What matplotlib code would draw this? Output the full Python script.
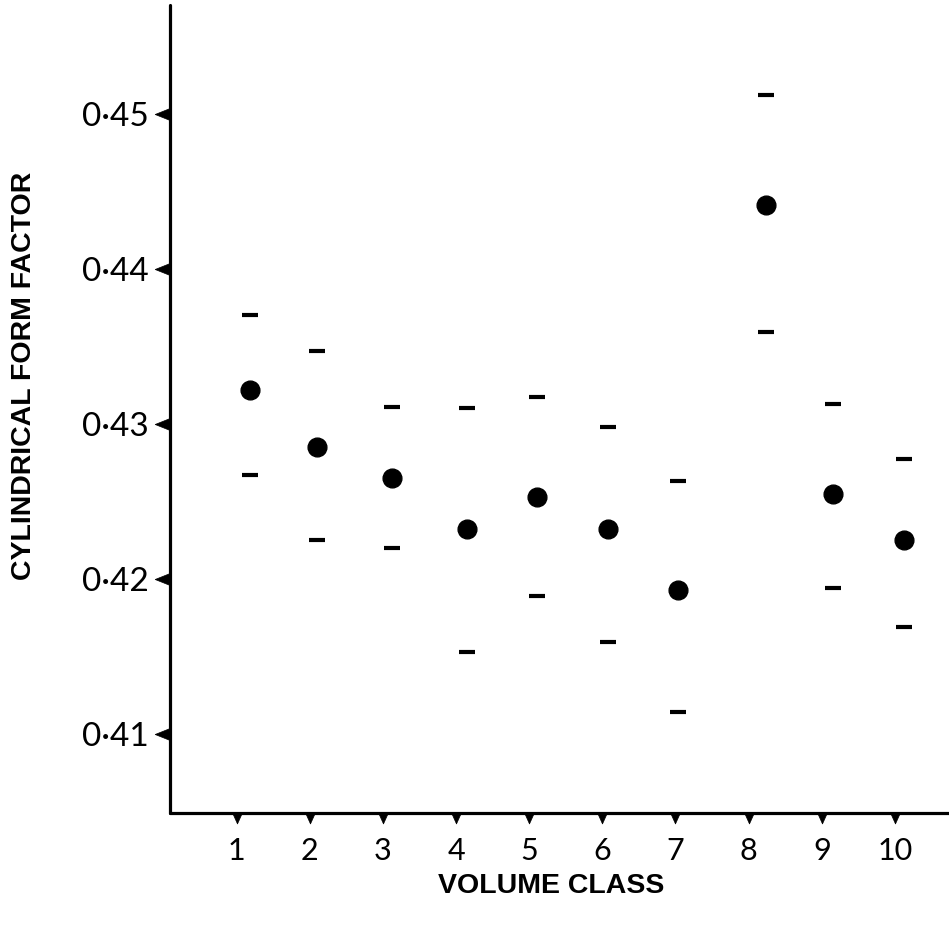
import numpy as np
import matplotlib.pyplot as plt
from matplotlib.path import Path

# --- datos ---
volume_class = [1, 2, 3, 4, 5, 6, 7, 8, 9, 10]
x_pos = [1.18, 2.10, 3.13, 4.15, 5.10, 6.08, 7.04, 8.24, 9.16, 10.13]  # posicion dibujada
form_mean = [0.4322, 0.4285, 0.4265, 0.4232, 0.4253, 0.4232, 0.4193, 0.4441, 0.4255, 0.4225]
form_upper = [0.4370, 0.4347, 0.4311, 0.4310, 0.4317, 0.4298, 0.4263, 0.4512, 0.4313, 0.4277]
form_lower = [0.4267, 0.4225, 0.4220, 0.4153, 0.4189, 0.4159, 0.4114, 0.4359, 0.4194, 0.4169]

y_ticks = [0.41, 0.42, 0.43, 0.44, 0.45]
y_ticklabels = ['0·41', '0·42', '0·43', '0·44', '0·45']

fig = plt.figure(figsize=(9.49, 9.27), dpi=100)
ax = fig.add_axes([170 / 949, 1 - 813 / 927, 1 - 170 / 949, (813 - 5) / 927])

ax.plot(x_pos, form_mean, 'o', color='black', markersize=13.5, clip_on=False)
ax.plot(x_pos, form_upper, '_', color='black', markersize=11, markeredgewidth=3, clip_on=False)
ax.plot(x_pos, form_lower, '_', color='black', markersize=11, markeredgewidth=3, clip_on=False)

ax.set_xlim(0.088, 10.74)
ax.set_ylim(0.4049, 0.4570)

for s in ['top', 'right']:
    ax.spines[s].set_visible(False)
for s in ['left', 'bottom']:
    ax.spines[s].set_linewidth(2.3)
    ax.spines[s].set_capstyle('round')

ax.set_xticks(volume_class)
ax.set_xticklabels([str(v) for v in volume_class])
ax.set_yticks(y_ticks)
ax.set_yticklabels(y_ticklabels)

ax.tick_params(axis='y', length=0, pad=15, labelsize=24, labelcolor='black')
ax.tick_params(axis='x', length=0, pad=17, labelsize=22, labelcolor='black')
for lab in ax.get_xticklabels() + ax.get_yticklabels():
    lab.set_fontfamily(['Lato', 'DejaVu Sans'])
    lab.set_fontweight('normal')

# marcas en forma de cuña, como en el original
wedge_left = Path([(0, -0.4), (-1, 0), (0, 0.4), (0, -0.4)],
                  [Path.MOVETO, Path.LINETO, Path.LINETO, Path.CLOSEPOLY])
wedge_down = Path([(-0.45, 0), (0, -1), (0.45, 0), (-0.45, 0)],
                  [Path.MOVETO, Path.LINETO, Path.LINETO, Path.CLOSEPOLY])
for t in ax.yaxis.get_major_ticks():
    t.tick1line.set_marker(wedge_left)
    t.tick1line.set_markersize(22)
    t.tick1line.set_markerfacecolor('black')
    t.tick1line.set_markeredgewidth(0.5)
for t in ax.xaxis.get_major_ticks():
    t.tick1line.set_marker(wedge_down)
    t.tick1line.set_markersize(15)
    t.tick1line.set_markerfacecolor('black')
    t.tick1line.set_markeredgewidth(0.5)

label_font = dict(family=['Liberation Sans', 'DejaVu Sans'], weight='bold', size=20.5)
ax.set_xlabel('VOLUME CLASS', **label_font)
ax.set_ylabel('CYLINDRICAL FORM FACTOR', **label_font)
ax.xaxis.set_label_coords(0.489, -0.074)
ax.yaxis.set_label_coords(-0.171, 0.541)

fig.savefig('out.png', dpi=100, facecolor='white')
